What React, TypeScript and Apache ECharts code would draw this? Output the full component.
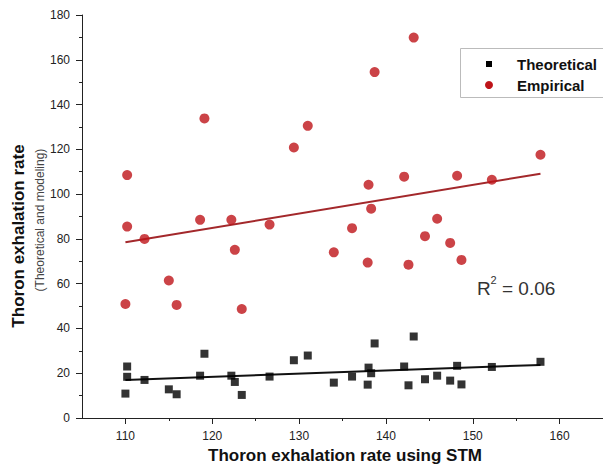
import React, { useEffect, useRef } from "react";
import * as echarts from "echarts";

// Thoron exhalation rate using STM (x values shared by both series)
const stm = [110.0, 110.2, 110.2, 112.2, 115.0, 115.9, 118.6, 119.1, 122.2, 122.6, 123.4, 126.6, 129.4, 131.0, 134.0, 136.1, 137.9, 138.0, 138.3, 138.7, 142.1, 142.6, 143.2, 144.5, 145.9, 147.4, 148.2, 148.7, 152.2, 157.8];
const empirical = [50.9, 85.5, 108.5, 80.0, 61.4, 50.5, 88.5, 133.8, 88.5, 75.1, 48.7, 86.4, 120.8, 130.5, 74.0, 84.8, 69.4, 104.2, 93.5, 154.5, 107.8, 68.5, 169.9, 81.2, 89.0, 78.2, 108.2, 70.6, 106.4, 117.6];
const theoretical = [10.9, 18.4, 23.0, 17.0, 12.8, 10.6, 18.9, 28.7, 18.9, 16.1, 10.3, 18.5, 25.8, 27.9, 15.8, 18.5, 14.9, 22.5, 20.0, 33.3, 23.0, 14.6, 36.4, 17.3, 18.9, 16.7, 23.3, 15.0, 22.8, 25.1];

// Fitted lines (end points)
const fitX = [110, 157.8];
const empiricalFit = [78.5, 109.1];
const theoreticalFit = [17.0, 23.7];

// Axis ticks
const xMajorTicks = [110, 120, 130, 140, 150, 160];
const xMinorTicks = [115, 125, 135, 145, 155];

const seriesNames = ["Theoretical", "Empirical"];
const r2Text = "0.06";

const FONT = '"Liberation Sans", Arial, Helvetica, sans-serif';

export default function App() {
  const ref = useRef<HTMLDivElement>(null);

  useEffect(() => {
    if (!ref.current) return;
    const chart = echarts.init(ref.current, null, { renderer: "svg" });
    const axisColor = "#222";
    const red = "#BE1419";
    const option: any = {
      animation: false,
      backgroundColor: "#fff",
      grid: { left: 82, right: 0, top: 15, bottom: 48, outerBoundsMode: "none" },
      xAxis: [
        {
          type: "value",
          min: 105,
          max: 165,
          position: "bottom",
          axisLine: { show: true, onZero: false, lineStyle: { color: axisColor, width: 1 } },
          axisTick: { show: true, inside: false, length: 6, customValues: xMajorTicks, lineStyle: { color: axisColor } },
          axisLabel: { customValues: xMajorTicks, margin: 12, fontSize: 12, color: axisColor, fontFamily: FONT },
          splitLine: { show: false },
        },
        {
          type: "value",
          min: 105,
          max: 165,
          position: "bottom",
          axisLine: { show: false },
          axisTick: { show: true, inside: false, length: 3, customValues: xMinorTicks, lineStyle: { color: axisColor } },
          axisLabel: { show: false },
          splitLine: { show: false },
        },
      ],
      yAxis: {
        type: "value",
        min: 0,
        max: 180,
        interval: 20,
        axisLine: { show: true, onZero: false, lineStyle: { color: axisColor, width: 1 } },
        axisTick: { show: true, inside: false, length: 6, lineStyle: { color: axisColor } },
        minorTick: { show: true, splitNumber: 2, length: 3, lineStyle: { color: axisColor } },
        axisLabel: { margin: 12, fontSize: 12, color: axisColor, fontFamily: FONT },
        splitLine: { show: false },
        minorSplitLine: { show: false },
      },
      series: [
        {
          type: "line",
          name: "Empirical fit",
          data: fitX.map((x, i) => [x, empiricalFit[i]]),
          symbol: "none",
          lineStyle: { color: "#A3282B", width: 2 },
          z: 1,
        },
        {
          type: "line",
          name: "Theoretical fit",
          data: fitX.map((x, i) => [x, theoreticalFit[i]]),
          symbol: "none",
          lineStyle: { color: "#111", width: 2 },
          z: 1,
        },
        {
          type: "scatter",
          name: seriesNames[0],
          data: stm.map((x, i) => [x, theoretical[i]]),
          symbol: "rect",
          symbolSize: 8,
          itemStyle: { color: "#000" },
          z: 3,
        },
        {
          type: "scatter",
          name: seriesNames[1],
          data: stm.map((x, i) => [x, empirical[i]]),
          symbol: "circle",
          symbolSize: 10,
          itemStyle: { color: red },
          z: 3,
        },
      ],
      graphic: [
        {
          type: "text",
          x: 18,
          y: 236,
          rotation: Math.PI / 2,
          style: {
            text: "Thoron exhalation rate",
            font: `bold 17px ${FONT}`,
            fill: "#111",
            align: "center",
            verticalAlign: "middle",
          },
        },
        {
          type: "text",
          x: 40,
          y: 220,
          rotation: Math.PI / 2,
          style: {
            text: "(Theoretical and modeling)",
            font: `12px ${FONT}`,
            fill: "#444",
            align: "center",
            verticalAlign: "middle",
          },
        },
        {
          type: "text",
          x: 345,
          y: 455,
          style: {
            text: "Thoron exhalation rate using STM",
            font: `bold 17px ${FONT}`,
            fill: "#111",
            align: "center",
            verticalAlign: "middle",
          },
        },
        {
          type: "rect",
          shape: { x: 460.5, y: 48.5, width: 160, height: 49 },
          style: { fill: "#fff", stroke: "#bbb", lineWidth: 1 },
          z: 10,
        },
        {
          type: "rect",
          shape: { x: 486, y: 61, width: 6, height: 6 },
          style: { fill: "#000" },
          z: 11,
        },
        {
          type: "circle",
          shape: { cx: 489, cy: 85, r: 4 },
          style: { fill: red },
          z: 11,
        },
        {
          type: "text",
          x: 517,
          y: 64,
          style: { text: seriesNames[0], font: `bold 15px ${FONT}`, fill: "#111", align: "left", verticalAlign: "middle" },
          z: 11,
        },
        {
          type: "text",
          x: 517,
          y: 85,
          style: { text: seriesNames[1], font: `bold 15px ${FONT}`, fill: "#111", align: "left", verticalAlign: "middle" },
          z: 11,
        },
        {
          type: "text",
          x: 477,
          y: 288,
          style: { text: "R", font: `19px ${FONT}`, fill: "#333", align: "left", verticalAlign: "middle" },
        },
        {
          type: "text",
          x: 490.5,
          y: 280,
          style: { text: "2", font: `11px ${FONT}`, fill: "#333", align: "left", verticalAlign: "middle" },
        },
        {
          type: "text",
          x: 502,
          y: 288,
          style: { text: "= " + r2Text, font: `19px ${FONT}`, fill: "#333", align: "left", verticalAlign: "middle" },
        },
      ],
    };
    chart.setOption(option);
    return () => {
      chart.dispose();
    };
  }, []);

  return (
    <div
      ref={ref}
      style={{ position: "fixed", left: 0, top: 0, width: 603, height: 466, background: "#fff" }}
    />
  );
}
